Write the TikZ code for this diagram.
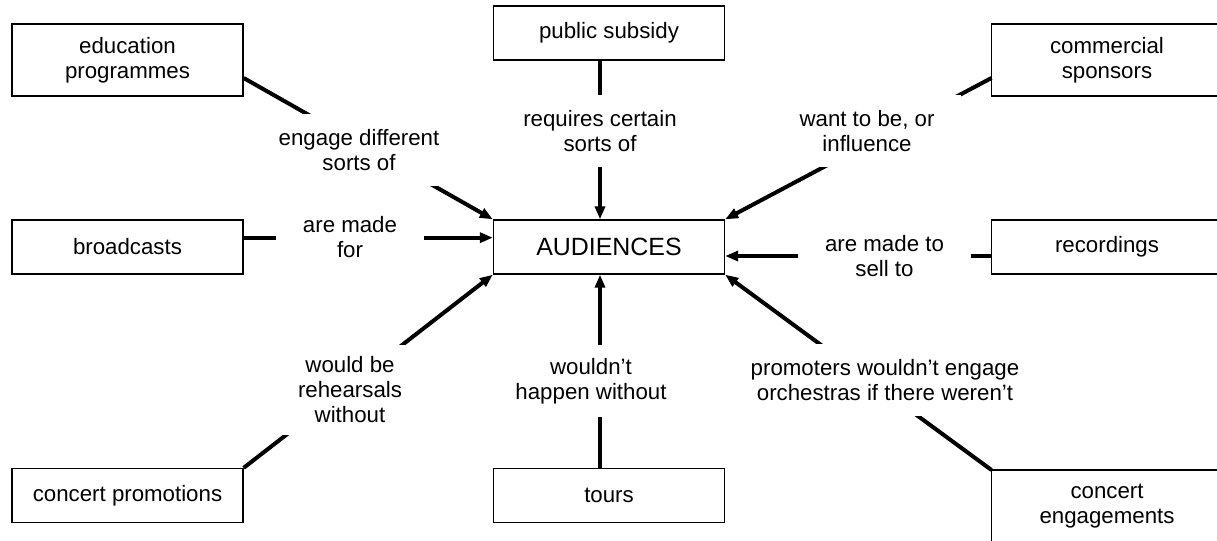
\documentclass[tikz,border=0pt]{standalone}
\usepackage{fontspec}
\setmainfont{Liberation Sans}
\usetikzlibrary{arrows.meta}
\tikzset{
	box/.style={draw, line width=1pt, minimum width=173.25pt, minimum height=40.5pt, inner sep=0pt, align=center, font=\fontsize{16.7}{18.75}\selectfont},
	tallbox/.style={box, minimum height=54pt},
	openbox/.style={draw=none, outer sep=0pt},
	frame/.style={line width=1pt},
	relto/.style={line width=3pt, -{Triangle[length=9.75pt,width=7.5pt]}},
	says/.style={fill=white, align=center, inner xsep=20pt, inner ysep=0pt, minimum height=54pt, font=\fontsize{16.7}{18.75}\selectfont}
}

\begin{document}
\begin{tikzpicture}[x=0.75pt, y=-0.75pt]
		%%%%% START %%%%%
		\useasboundingbox (0, 0) rectangle (1217, 540);
		\clip (0, 0) rectangle (1217, 540);
		
		\node[tallbox] (edu) at (127.5, 60) {education\\programmes};
		\node[box] (subsidy) at (609, 33) {public subsidy};
		\node[tallbox, openbox] (sponsors) at (1107, 60) {commercial\\sponsors};
		
		\node[box] (broadcasts) at (127.5, 247) {broadcasts};
		\node[box, font=\fontsize{18.7}{22}\selectfont] (aud) at (609, 247) {AUDIENCES};
		\node[box, openbox] (recordings) at (1107, 247) {recordings};
		
		\node[box] (promotions) at (127.5, 495.5) {concert promotions};
		\node[box] (tours) at (609, 495.5) {tours};
		\node[tallbox, openbox] (engagements) at (1107, 506) {concert\\engagements};
		
		% frames of the boxes cut by the edge
		\draw[frame] ([xshift=30pt]sponsors.north east) -- (sponsors.north west) -- (sponsors.south west) -- ([xshift=30pt]sponsors.south east);
		\draw[frame] ([xshift=30pt]recordings.north east) -- (recordings.north west) -- (recordings.south west) -- ([xshift=30pt]recordings.south east);
		\draw[frame] ([yshift=-30pt]engagements.south west) -- (engagements.north west) -- ([xshift=30pt]engagements.north east);
		
		\draw[relto] ([yshift=-13.5pt]edu.east) -- (aud.north west);
		\draw[relto] ([xshift=-6.75pt]subsidy.south) -- ([xshift=-6.75pt]aud.north);
		\draw[relto] ([yshift=-13.5pt]sponsors.west) -- (aud.north east);
		\draw[relto] ([yshift=7pt]broadcasts.east) -- ([yshift=7pt]aud.west);
		\draw[relto] ([yshift=-6.75pt]recordings.west) -- ([yshift=-6.75pt]aud.east);
		\draw[relto] (promotions.north east) -- (aud.south west);
		\draw[relto] ([xshift=-6.75pt]tours.north) -- ([xshift=-6.75pt]aud.south);
		\draw[relto] (engagements.north west) -- (aud.south east);
		
		\node[says] (l-edu) at (359, 150) {engage different\\sorts of};
		\node[says] (l-subsidy) at (600, 131) {requires certain\\sorts of};
		\node[says] (l-sponsors) at (867, 131) {want to be, or\\influence};
		\node[says] (l-broadcasts) at (350, 237) {are made\\for};
		\node[says] (l-recordings) at (884.5, 256) {are made to\\sell to};
		\node[says, minimum height=67pt] (l-promotions) at (350, 390) {would be\\rehearsals\\without};
		\node[says] (l-tours) at (591, 381) {wouldn't\\happen without};
		\node[says] (l-engagements) at (885, 380) {promoters wouldn't engage\\orchestras if there weren't};
		%%%%% END %%%%%
\end{tikzpicture}
\end{document}
